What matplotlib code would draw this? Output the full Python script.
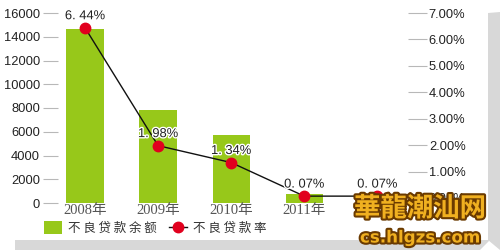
import numpy as np
import matplotlib.pyplot as plt
import matplotlib.patheffects as pe
from matplotlib.patches import Patch, Polygon
from matplotlib.lines import Line2D

plt.rcParams['font.family'] = ['Noto Sans CJK SC', 'DejaVu Sans']

# data
years = ['2008年', '2009年', '2010年', '2011年', '2012年']
balance = [14650, 7850, 5750, 750, 700]          # 不良贷款余额
ratio = [6.44, 1.98, 1.34, 0.07, 0.07]           # 不良贷款率 (%)
ratio_labels = ['6.44%', '1.98%', '1.34%', '0.07%', '0.07%']
left_ticks = [0, 2000, 4000, 6000, 8000, 10000, 12000, 14000, 16000]
right_ticks = [0, 1, 2, 3, 4, 5, 6, 7]

GREEN = '#97c81a'
RED = '#e1001e'

fig = plt.figure(figsize=(5, 2.5), dpi=100)

# shadow bands of the frame
fig.patches.append(Polygon([[0.03, 0.0], [0.96, 0.0], [0.98, 0.04], [0.03, 0.04]],
                           closed=True, transform=fig.transFigure,
                           facecolor='#d8d8d8', edgecolor='none', zorder=0))
fig.patches.append(Polygon([[0.976, 0.04], [1.0, 0.0], [1.0, 0.952], [0.976, 0.948]],
                           closed=True, transform=fig.transFigure,
                           facecolor='#d8d8d8', edgecolor='none', zorder=0))

ax = fig.add_axes([0.116, 0.188, 0.7, 0.76])
x = np.arange(len(years))
ax.bar(x, balance, width=0.51, color=GREEN, zorder=1)
ax.set_xlim(-0.37, 4.42)
ax.set_ylim(0, 16000)
ax.set_yticks(left_ticks)
ax.set_yticklabels([str(v) for v in left_ticks], family='Liberation Sans')
ax.set_xticks(x)
ax.set_xticklabels(years, family=['Liberation Serif', 'Noto Sans CJK SC'])
ax.tick_params(axis='y', length=11, width=0.8, color='#b8b8b8', pad=2,
               labelsize=9.3, labelcolor='#222222')
ax.tick_params(axis='x', length=0, pad=1, labelsize=10.5, labelcolor='#555555')
for s in ax.spines.values():
    s.set_visible(False)
ax.patch.set_alpha(0)

ax2 = ax.twinx()
ax2.plot(x, ratio, color='#111111', lw=1, zorder=3)
ax2.plot(x, ratio, 'o', color=RED, ms=7.5, zorder=4)
ax2.set_ylim(-0.19, 6.93)
ax2.set_yticks(right_ticks)
ax2.set_yticklabels(['%.2f%%' % v for v in right_ticks], family='Liberation Sans')
ax2.tick_params(axis='y', length=14, width=0.8, color='#b8b8b8', pad=1,
                labelsize=9.3, labelcolor='#222222')
for s in ax2.spines.values():
    s.set_visible(False)

for xi, yi, lab in zip(x, ratio, ratio_labels):
    ax2.annotate(lab.replace('.', '. '), (xi, yi), xytext=(0, 4), textcoords='offset points',
                 ha='center', va='bottom', fontsize=9.3, family='Liberation Sans',
                 color='#222222', zorder=5,
                 path_effects=[pe.withStroke(linewidth=2, foreground='white')])

handles = [Patch(facecolor=GREEN, edgecolor='none'),
           Line2D([], [], color='#111111', lw=1, marker='o', ms=7.5,
                  markerfacecolor=RED, markeredgecolor=RED)]
fig.legend(handles, [' '.join('不良贷款余额'), ' '.join('不良贷款率')], loc='center left',
           bbox_to_anchor=(0.076, 0.088), ncol=2, frameon=False, fontsize=9,
           handlelength=1.4, handleheight=1.2, handletextpad=0.5, columnspacing=1.0,
           labelcolor='#333333', borderpad=0)

# site watermark
fig.text(0.84, 0.165, '華龍潮汕网', ha='center', va='center', fontsize=19,
         fontweight='bold', color='#f0b020', zorder=10,
         path_effects=[pe.withStroke(linewidth=3, foreground='#6a3a00')])
fig.text(0.84, 0.05, 'cs.hlgzs.com', ha='center', va='center', fontsize=12,
         fontweight='bold', color='#f0b020', zorder=10, family='DejaVu Sans',
         path_effects=[pe.withStroke(linewidth=3, foreground='#6a3a00')])

fig.savefig('out.png', dpi=100)
